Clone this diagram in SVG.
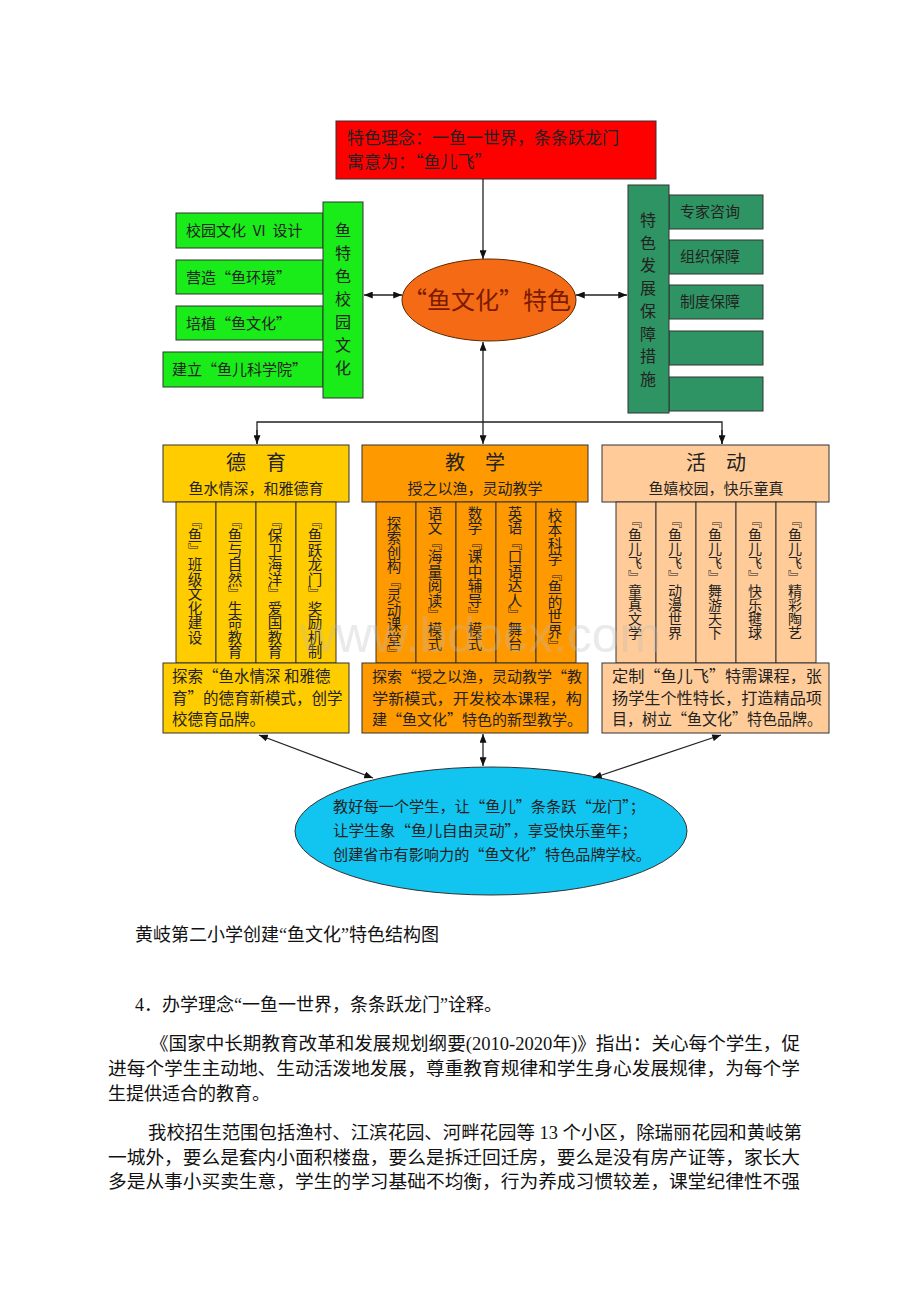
<svg xmlns="http://www.w3.org/2000/svg" width="920" height="1302" viewBox="0 0 920 1302">
<defs>
<marker id="ah" viewBox="0 0 10 8" refX="10" refY="4" markerWidth="9" markerHeight="7" markerUnits="userSpaceOnUse" orient="auto-start-reverse">
<path d="M0,0 L10,4 L0,8 z" fill="#111"/>
</marker>
<style>
.t{font-family:"Noto Sans CJK SC","Noto Sans",sans-serif;fill:#222}
.v{font-family:"Noto Sans CJK SC",sans-serif;fill:#222;writing-mode:vertical-rl;text-orientation:upright}
.b{stroke:#333;stroke-width:1}
.ln{stroke:#222;stroke-width:1.3;fill:none}
.body{font-family:"Liberation Serif","Noto Sans CJK SC",serif;font-size:18px;fill:#111}
</style>
</defs>
<rect width="920" height="1302" fill="#fff"/>

<g id="top">
<rect x="336" y="121" width="320" height="58" fill="#ff0000" class="b"/>
<text class="t" x="347" y="144" font-size="17" fill="#300">特色理念：一鱼一世界，条条跃龙门</text>
<text class="t" x="347" y="168" font-size="17" fill="#300">寓意为：“鱼儿飞”</text>
</g>

<g id="center">
<ellipse cx="489" cy="300" rx="87" ry="41" fill="#f56a14" stroke="#5a2a00" stroke-width="1"/>
<text class="t" x="487" y="309" font-size="24" text-anchor="middle" style="fill:#7a1a00">“鱼文化”特色</text>
</g>

<g id="left-culture">
<rect x="176" y="213" width="147" height="35" fill="#19ec19" class="b"/>
<text class="t" x="186" y="236" font-size="15">校园文化&#160;&#160;VI&#160;&#160;设计</text>
<rect x="176" y="260" width="147" height="34" fill="#19ec19" class="b"/>
<text class="t" x="186" y="283" font-size="15">营造“鱼环境”</text>
<rect x="176" y="306" width="147" height="34" fill="#19ec19" class="b"/>
<text class="t" x="186" y="329" font-size="15">培植“鱼文化”</text>
<rect x="163" y="352" width="160" height="35" fill="#19ec19" class="b"/>
<text class="t" x="172" y="375" font-size="15">建立“鱼儿科学院”</text>
<rect x="323" y="202" width="40" height="196" fill="#19ec19" class="b"/>
<text class="v" x="343" y="222" font-size="16" letter-spacing="7">鱼特色校园文化</text>
</g>

<g id="right-guarantee">
<rect x="669" y="195" width="94" height="34" fill="#2f9463" class="b"/>
<text class="t" x="680" y="217" font-size="15">专家咨询</text>
<rect x="669" y="240" width="94" height="34" fill="#2f9463" class="b"/>
<text class="t" x="680" y="262" font-size="15">组织保障</text>
<rect x="669" y="285" width="94" height="34" fill="#2f9463" class="b"/>
<text class="t" x="680" y="307" font-size="15">制度保障</text>
<rect x="669" y="331" width="94" height="34" fill="#2f9463" class="b"/>
<rect x="669" y="377" width="94" height="34" fill="#2f9463" class="b"/>
<rect x="628" y="185" width="41" height="228" fill="#2f9463" class="b"/>
<text class="v" x="648" y="212" font-size="16" letter-spacing="6.7">特色发展保障措施</text>
</g>

<g id="deyu">
<rect x="163" y="445" width="186" height="57" fill="#ffcc00" class="b"/>
<text class="t" x="256" y="470" font-size="20" text-anchor="middle">德　育</text>
<text class="t" x="256" y="494" font-size="15" text-anchor="middle">鱼水情深，和雅德育</text>
<rect x="176" y="502" width="40" height="161" fill="#ffcc00" class="b"/>
<rect x="216" y="502" width="40" height="161" fill="#ffcc00" class="b"/>
<rect x="256" y="502" width="40" height="161" fill="#ffcc00" class="b"/>
<rect x="296" y="502" width="40" height="161" fill="#ffcc00" class="b"/>
<text class="v" x="195" y="514" font-size="14.5">﹃鱼﹄班级文化建设</text>
<text class="v" x="235" y="514" font-size="14.5">﹃鱼与自然﹄生命教育</text>
<text class="v" x="275" y="514" font-size="14.5">﹃保卫海洋﹄爱国教育</text>
<text class="v" x="315" y="514" font-size="14.5">﹃鱼跃龙门﹄奖励机制</text>
<rect x="163" y="663" width="186" height="70" fill="#ffcc00" class="b"/>
<text class="t" x="172" y="682" font-size="15.5">探索“鱼水情深 和雅德</text>
<text class="t" x="172" y="704" font-size="15.5">育”的德育新模式，创学</text>
<text class="t" x="172" y="725" font-size="15.5">校德育品牌。</text>
</g>

<g id="jiaoxue">
<rect x="362" y="445" width="226" height="57" fill="#ff9900" class="b"/>
<text class="t" x="475" y="470" font-size="20" text-anchor="middle">教　学</text>
<text class="t" x="475" y="494" font-size="15" text-anchor="middle">授之以渔，灵动教学</text>
<rect x="376" y="502" width="40" height="161" fill="#ff9900" class="b"/>
<rect x="416" y="502" width="40" height="161" fill="#ff9900" class="b"/>
<rect x="456" y="502" width="40" height="161" fill="#ff9900" class="b"/>
<rect x="496" y="502" width="40" height="161" fill="#ff9900" class="b"/>
<rect x="536" y="502" width="40" height="161" fill="#ff9900" class="b"/>
<text class="v" x="394" y="516" font-size="14.5">探索创构﹃灵动课堂﹄</text>
<text class="v" x="435" y="506" font-size="14.5">语文﹃海量阅读﹄模式</text>
<text class="v" x="475" y="506" font-size="14.5">数学﹃课中辅导﹄模式</text>
<text class="v" x="515" y="506" font-size="14.5">英语﹃口语达人﹄舞台</text>
<text class="v" x="555" y="508" font-size="14.5">校本科学﹃鱼的世界﹄</text>
<rect x="362" y="663" width="226" height="70" fill="#ff9900" class="b"/>
<text class="t" x="372" y="682" font-size="15" textLength="210" lengthAdjust="spacingAndGlyphs">探索“授之以渔，灵动教学“教</text>
<text class="t" x="372" y="704" font-size="15" textLength="210" lengthAdjust="spacingAndGlyphs">学新模式，开发校本课程，构</text>
<text class="t" x="372" y="725" font-size="15" textLength="210" lengthAdjust="spacingAndGlyphs">建“鱼文化”特色的新型教学。</text>
</g>

<g id="huodong">
<rect x="602" y="445" width="227" height="57" fill="#ffcc99" class="b"/>
<text class="t" x="716" y="470" font-size="20" text-anchor="middle">活　动</text>
<text class="t" x="716" y="494" font-size="15" text-anchor="middle">鱼嬉校园，快乐童真</text>
<rect x="616" y="502" width="40" height="161" fill="#ffcc99" class="b"/>
<rect x="656" y="502" width="40" height="161" fill="#ffcc99" class="b"/>
<rect x="696" y="502" width="40" height="161" fill="#ffcc99" class="b"/>
<rect x="736" y="502" width="40" height="161" fill="#ffcc99" class="b"/>
<rect x="776" y="502" width="40" height="161" fill="#ffcc99" class="b"/>
<text class="v" x="635" y="514" font-size="14">﹃鱼儿飞﹄童真文学</text>
<text class="v" x="675" y="514" font-size="14">﹃鱼儿飞﹄动漫世界</text>
<text class="v" x="715" y="514" font-size="14">﹃鱼儿飞﹄舞游天下</text>
<text class="v" x="755" y="514" font-size="14">﹃鱼儿飞﹄快乐毽球</text>
<text class="v" x="795" y="514" font-size="14">﹃鱼儿飞﹄精彩陶艺</text>
<rect x="602" y="663" width="227" height="70" fill="#ffcc99" class="b"/>
<text class="t" x="612" y="682" font-size="15.5" textLength="210" lengthAdjust="spacingAndGlyphs">定制“鱼儿飞”特需课程，张</text>
<text class="t" x="612" y="704" font-size="15.5" textLength="210" lengthAdjust="spacingAndGlyphs">扬学生个性特长，打造精品项</text>
<text class="t" x="612" y="725" font-size="15.5" textLength="210" lengthAdjust="spacingAndGlyphs">目，树立“鱼文化”特色品牌。</text>
</g>

<text x="300" y="652" font-family="Liberation Sans,sans-serif" font-size="50" fill="#bbb" opacity="0.3">www.bdocx.com</text>

<g id="goal">
<ellipse cx="491" cy="831" rx="196" ry="64" fill="#12c4f0" stroke="#333" stroke-width="1"/>
<text class="t" x="333" y="812" font-size="15" textLength="312" lengthAdjust="spacingAndGlyphs">教好每一个学生，让“鱼儿”条条跃“龙门”；</text>
<text class="t" x="333" y="836" font-size="15" textLength="304" lengthAdjust="spacingAndGlyphs">让学生象“鱼儿自由灵动”，享受快乐童年；</text>
<text class="t" x="333" y="860" font-size="15" textLength="318" lengthAdjust="spacingAndGlyphs">创建省市有影响力的“鱼文化”特色品牌学校。</text>
</g>

<g id="connectors">
<line class="ln" x1="483" y1="179" x2="483" y2="259" marker-end="url(#ah)"/>
<line class="ln" x1="364" y1="295" x2="402" y2="295" marker-start="url(#ah)" marker-end="url(#ah)"/>
<line class="ln" x1="576" y1="295" x2="627" y2="295" marker-start="url(#ah)" marker-end="url(#ah)"/>
<line class="ln" x1="483" y1="342" x2="483" y2="444" marker-start="url(#ah)" marker-end="url(#ah)"/>
<polyline class="ln" points="257,444 257,422 722,422 722,444"/>
<line class="ln" x1="257" y1="430" x2="257" y2="444" marker-end="url(#ah)"/>
<line class="ln" x1="722" y1="430" x2="722" y2="444" marker-end="url(#ah)"/>
<line class="ln" x1="259" y1="735" x2="373" y2="778" marker-start="url(#ah)" marker-end="url(#ah)"/>
<line class="ln" x1="483" y1="734" x2="483" y2="766" marker-start="url(#ah)" marker-end="url(#ah)"/>
<line class="ln" x1="721" y1="735" x2="593" y2="778" marker-start="url(#ah)" marker-end="url(#ah)"/>
</g>

<g id="text-body">
<text class="body" x="135" y="941" font-size="17">黄岐第二小学创建“鱼文化”特色结构图</text>
<text class="body" x="135" y="1011">4．办学理念“一鱼一世界，条条跃龙门”诠释。</text>
<text class="body" x="150" y="1050" textLength="650" lengthAdjust="spacingAndGlyphs">《国家中长期教育改革和发展规划纲要(2010-2020年)》指出：关心每个学生，促</text>
<text class="body" x="108" y="1075" textLength="692" lengthAdjust="spacingAndGlyphs">进每个学生主动地、生动活泼地发展，尊重教育规律和学生身心发展规律，为每个学</text>
<text class="body" x="108" y="1100">生提供适合的教育。</text>
<text class="body" x="148" y="1139" textLength="654" lengthAdjust="spacingAndGlyphs">我校招生范围包括渔村、江滨花园、河畔花园等 13 个小区，除瑞丽花园和黄岐第</text>
<text class="body" x="108" y="1164" textLength="692" lengthAdjust="spacingAndGlyphs">一城外，要么是套内小面积楼盘，要么是拆迁回迁房，要么是没有房产证等，家长大</text>
<text class="body" x="108" y="1188" textLength="692" lengthAdjust="spacingAndGlyphs">多是从事小买卖生意，学生的学习基础不均衡，行为养成习惯较差，课堂纪律性不强</text>
</g>
</svg>
